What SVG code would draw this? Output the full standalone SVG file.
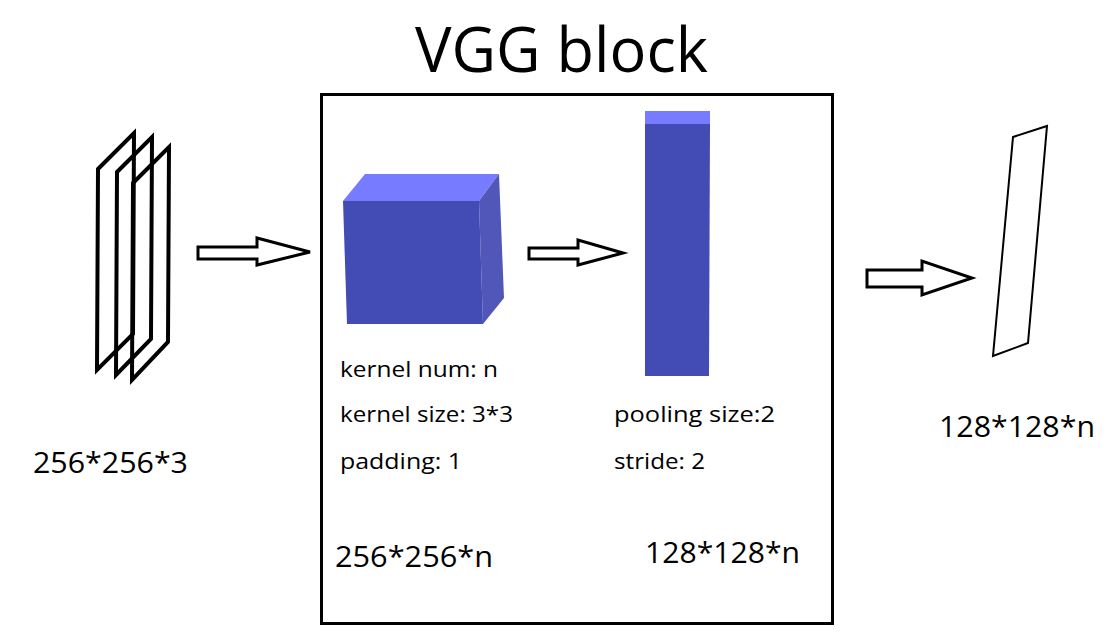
<svg xmlns="http://www.w3.org/2000/svg" width="1116" height="640" viewBox="0 0 1116 640">
<style>
text { font-family: "Open Sans", "Noto Sans", "DejaVu Sans", sans-serif; fill: #000; }
.title { font-size: 63px; }
.lbl { font-size: 21px; }
.dim { font-size: 29px; }
.frame { fill: none; stroke: #000; stroke-width: 4; stroke-linejoin: miter; }
.arrow { fill: #fff; stroke: #000; stroke-width: 3; stroke-linejoin: miter; }
.front { fill: #434BB5; }
.top { fill: #767BFF; }
.side { fill: #5057B8; }
</style>
<rect width="1116" height="640" fill="#fff"/>
<g id="title"><text class="title" x="415" y="72" textLength="293" lengthAdjust="spacingAndGlyphs">VGG block</text></g>
<g id="vgg-block"><rect x="321.5" y="94.5" width="511" height="529" fill="none" stroke="#000" stroke-width="3"/></g>
<g id="input">
<polygon class="frame" points="98,169 134,133 133,334 97,370"/>
<polygon class="frame" points="117,172 152,137 151,339 116,375"/>
<polygon class="frame" points="133,183 169,147 168,342 132,380"/>
<text class="dim" x="33" y="473" textLength="155" lengthAdjust="spacingAndGlyphs">256*256*3</text>
</g>
<g id="conv">
<polygon class="top" points="343,201 365,174 499,174 479,201"/>
<polygon class="side" points="479,201 499,174 504,298 483,324"/>
<polygon class="front" points="343,201 479,201 483,324 347,324"/>
<text class="lbl" x="340" y="377" textLength="158" lengthAdjust="spacingAndGlyphs">kernel num: n</text>
<text class="lbl" x="340" y="422" textLength="173" lengthAdjust="spacingAndGlyphs">kernel size: 3*3</text>
<text class="lbl" x="340" y="469" textLength="122" lengthAdjust="spacingAndGlyphs">padding: 1</text>
<text class="dim" x="335" y="567" textLength="158" lengthAdjust="spacingAndGlyphs">256*256*n</text>
</g>
<g id="pool">
<polygon class="top" points="645,111 710,111 710,124 645,124"/>
<polygon class="front" points="645,124 710,124 709,376 645,376"/>
<text class="lbl" x="614" y="422" textLength="161" lengthAdjust="spacingAndGlyphs">pooling size:2</text>
<text class="lbl" x="614" y="469" textLength="91" lengthAdjust="spacingAndGlyphs">stride: 2</text>
<text class="dim" x="645" y="563" textLength="155" lengthAdjust="spacingAndGlyphs">128*128*n</text>
</g>
<g id="output">
<polygon points="1013,137 1047,126 1028,343 993,356" fill="none" stroke="#000" stroke-width="2"/>
<text class="dim" x="939" y="437" textLength="156" lengthAdjust="spacingAndGlyphs">128*128*n</text>
</g>
<g id="connectors">
<polygon class="arrow" points="198,247 257,247 257,238 310,252 257,265 257,259 198,259"/>
<polygon class="arrow" points="529,248 578,248 578,240 623,253 578,265 578,259 529,259"/>
<polygon class="arrow" points="867,270 922,270 922,261 972,278 922,295 922,287 867,287"/>
</g>
</svg>
